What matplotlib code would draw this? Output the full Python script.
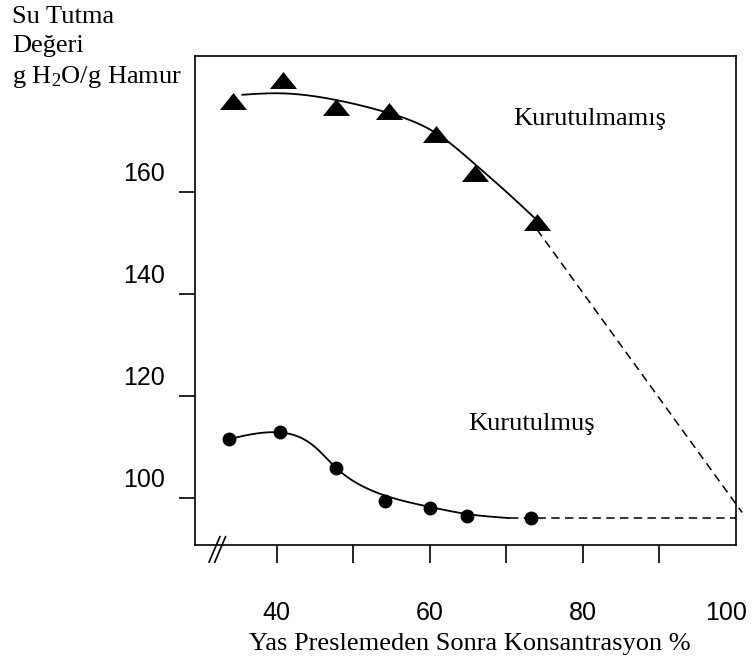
import numpy as np
import matplotlib
matplotlib.use("Agg")
import matplotlib.pyplot as plt
from matplotlib.transforms import ScaledTranslation

# Measured water retention values (g H2O / g pulp)
undried_x = [34.3, 40.8, 47.7, 54.7, 60.8, 65.9, 74.0]
undried_y = [177.7, 181.9, 176.7, 175.9, 171.3, 163.7, 154.1]
dried_x = [33.8, 40.4, 47.8, 54.2, 60.0, 64.9, 73.2]
dried_y = [111.5, 112.9, 105.8, 99.4, 98.0, 96.5, 96.0]

# Hand-fitted trend curves and their dashed extrapolations
undried_curve_x = [35.4, 40.4, 47.7, 54.7, 60.8, 65.9, 70.5, 74.0]
undried_curve_y = [179.0, 179.3, 178.0, 175.4, 171.5, 165.4, 159.3, 154.4]
undried_ext_x = [74.0, 100.8]
undried_ext_y = [152.6, 97.1]

dried_curve_x = [33.8, 40.4, 44.8, 47.8, 50.9, 54.2, 60.0, 64.9, 70.5]
dried_curve_y = [111.5, 112.8, 110.2, 105.8, 102.5, 100.4, 98.2, 96.8, 96.0]
dried_ext_x = [70.5, 100.0]
dried_ext_y = [96.0, 96.0]

x_major = [40, 60, 80, 100]
x_minor = [50, 70, 90]
y_ticks = [100, 120, 140, 160]

SERIF = "Liberation Serif"
SANS = "Liberation Sans"
plt.rcParams["mathtext.fontset"] = "custom"
plt.rcParams["mathtext.rm"] = SERIF
plt.rcParams["mathtext.it"] = SERIF + ":italic"


def natural_spline(xs, ys, n=300):
    """Natural cubic spline through the given knots, sampled for drawing."""
    x = np.asarray(xs, float)
    a = np.asarray(ys, float)
    k = len(x)
    h = np.diff(x)
    A = np.zeros((k, k))
    r = np.zeros(k)
    A[0, 0] = A[-1, -1] = 1.0
    for i in range(1, k - 1):
        A[i, i - 1] = h[i - 1]
        A[i, i] = 2 * (h[i - 1] + h[i])
        A[i, i + 1] = h[i]
        r[i] = 3 * ((a[i + 1] - a[i]) / h[i] - (a[i] - a[i - 1]) / h[i - 1])
    c = np.linalg.solve(A, r)
    b = (a[1:] - a[:-1]) / h - h * (c[1:] + 2 * c[:-1]) / 3
    d = (c[1:] - c[:-1]) / (3 * h)
    xx = np.linspace(x[0], x[-1], n)
    idx = np.clip(np.searchsorted(x, xx) - 1, 0, k - 2)
    dx = xx - x[idx]
    yy = a[idx] + b[idx] * dx + c[idx] * dx ** 2 + d[idx] * dx ** 3
    return xx, yy


W, H, DPI = 752, 660, 100
fig = plt.figure(figsize=(W / DPI, H / DPI), dpi=DPI)
ax = fig.add_axes([195 / W, (H - 545) / H, (736 - 195) / W, (545 - 55.7) / H])
ax.set_xlim(29.33, 100)
ax.set_ylim(90.73, 186.67)

for sp in ax.spines.values():
    sp.set_linewidth(1.2)

# trend curves
cx, cy = natural_spline(undried_curve_x, undried_curve_y)
ax.plot(cx, cy, color="black", lw=1.3, solid_capstyle="butt")
cx, cy = natural_spline(dried_curve_x, dried_curve_y)
ax.plot(cx, cy, color="black", lw=1.3, solid_capstyle="butt")
dash = (0, (5.5, 3.5))
ax.plot(undried_ext_x, undried_ext_y, color="black", lw=1.1, ls=dash, clip_on=False)
ax.plot(dried_ext_x, dried_ext_y, color="black", lw=1.1, ls=dash)

# markers
flat_tri = [(-1, -0.625), (1, -0.625), (0, 0.625), (-1, -0.625)]
ax.plot(undried_x, undried_y, ls="none", marker=flat_tri, ms=19.5,
        mfc="black", mec="black", mew=0, zorder=3)
ax.plot(dried_x, dried_y, ls="none", marker="o", ms=10,
        mfc="black", mec="black", mew=0, zorder=3)

# ticks
ax.set_xticks(x_major)
ax.set_xticklabels([str(v) for v in x_major])
ax.set_xticks(x_minor, minor=True)
ax.set_yticks(y_ticks)
ax.set_yticklabels([str(v) for v in y_ticks])
ax.tick_params(axis="x", which="both", direction="out", length=13, width=1.2,
               pad=27, labelsize=18)
ax.tick_params(axis="y", direction="out", length=11.5, width=1.2,
               pad=10, labelsize=18)
ax.xaxis.get_major_ticks()[-1].tick1line.set_visible(False)
for lab in ax.get_xticklabels() + ax.get_yticklabels():
    lab.set_fontfamily(SANS)
for lab in ax.get_yticklabels():
    lab.set_transform(lab.get_transform() + ScaledTranslation(0, 0.20, fig.dpi_scale_trans))
last = ax.get_xticklabels()[-1]
last.set_transform(last.get_transform() + ScaledTranslation(-0.10, 0, fig.dpi_scale_trans))

# axis break mark
for dx in (0.0, 0.0105):
    ax.plot([0.026 + dx, 0.046 + dx], [-0.035, 0.017], transform=ax.transAxes,
            color="black", lw=1.2, clip_on=False)

# annotations
ax.text(70.9, 173.1, "Kurutulmamış", family=SERIF, fontsize=19, va="baseline")
ax.text(65.0, 113.2, "Kurutulmuş", family=SERIF, fontsize=19, va="baseline")

fig.text(470 / W, (H - 650) / H, "Yas Preslemeden Sonra Konsantrasyon %",
         family=SERIF, fontsize=19, ha="center", va="baseline")
for txt, base in (("Su Tutma", 22.7), ("Değeri", 52.3), ("g H$_2$O/g Hamur", 83.3)):
    fig.text(12 / W, (H - base) / H, txt, family=SERIF, fontsize=19,
             ha="left", va="baseline")

fig.savefig("out.png", dpi=DPI)
